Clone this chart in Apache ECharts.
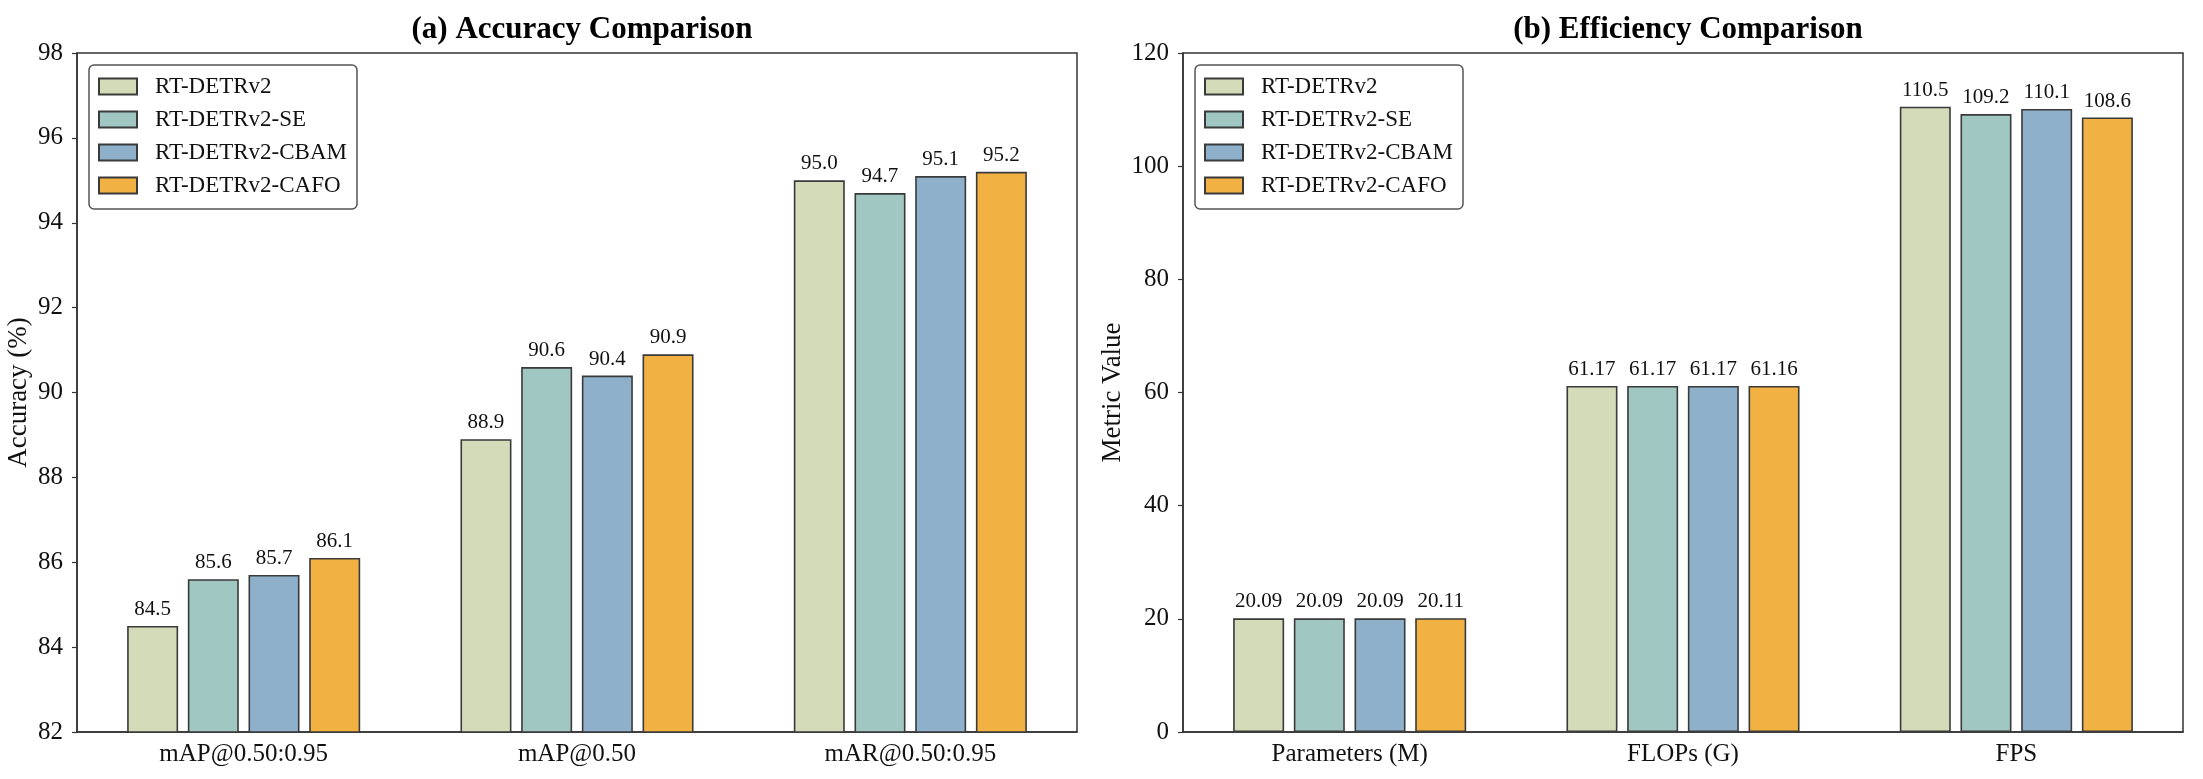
<!DOCTYPE html>
<html>
<head>
<meta charset="utf-8">
<script src="https://cdn.jsdelivr.net/npm/echarts@6/dist/echarts.min.js"></script>
<style>
  html, body { margin: 0; padding: 0; background: #fff; }
  #chart { width: 2203px; height: 779px; }
</style>
</head>
<body>
<div id="chart"></div>
<script>
const models = ["RT-DETRv2", "RT-DETRv2-SE", "RT-DETRv2-CBAM", "RT-DETRv2-CAFO"];
const colors = ["#D3DBB8", "#A0C7C2", "#8EB0CB", "#F2B243"];

// (a) accuracy
const accCategories = ["mAP@0.50:0.95", "mAP@0.50", "mAR@0.50:0.95"];
const accBase = [84.5, 88.9, 95.0];
const accSE = [85.6, 90.6, 94.7];
const accCBAM = [85.7, 90.4, 95.1];
const accCAFO = [86.1, 90.9, 95.2];

// (b) efficiency
const effCategories = ["Parameters (M)", "FLOPs (G)", "FPS"];
const effDecimals = [2, 2, 1];
const effBase = [20.09, 61.17, 110.5];
const effSE = [20.09, 61.17, 109.2];
const effCBAM = [20.09, 61.17, 110.1];
const effCAFO = [20.11, 61.16, 108.6];

const accData = [accBase, accSE, accCBAM, accCAFO];
const effData = [effBase, effSE, effCBAM, effCAFO];

const FONT = "'Liberation Serif', 'Times New Roman', serif";
const INK = "#333";

function makeSeries(data, gridIdx, fmt) {
  return data.map((vals, i) => ({
    name: models[i],
    type: "bar",
    xAxisIndex: gridIdx,
    yAxisIndex: gridIdx,
    data: vals,
    barWidth: 51,
    barGap: "19%",
    itemStyle: { color: colors[i], borderColor: "#3a3a3a", borderWidth: 1.6 },
    label: {
      show: true,
      position: "top",
      distance: 6,
      fontFamily: FONT,
      fontSize: 21,
      color: "#111",
      formatter: fmt,
    },
  }));
}

function legendAt(left) {
  return {
    data: models,
    orient: "vertical",
    left: left,
    top: 65,
    icon: "rect",
    itemWidth: 38,
    itemHeight: 16,
    itemGap: 10,
    padding: [10, 10, 12, 9],
    borderColor: "#555",
    borderWidth: 1.5,
    borderRadius: 5,
    backgroundColor: "#fff",
    textStyle: { fontFamily: FONT, fontSize: 23, color: "#111", lineHeight: 23, padding: [0, 0, 0, 13] },
  };
}

function xAxisFor(cats, gridIdx) {
  return {
    type: "category",
    gridIndex: gridIdx,
    data: cats,
    axisLine: { lineStyle: { color: INK, width: 1.5 } },
    axisTick: { alignWithLabel: true, length: 5, lineStyle: { color: INK, width: 1.2 } },
    axisLabel: { fontFamily: FONT, fontSize: 25, color: "#111", margin: 10 },
    splitLine: { show: false },
  };
}

function yAxisFor(name, min, max, interval, gridIdx, gap) {
  return {
    type: "value",
    gridIndex: gridIdx,
    min: min,
    max: max,
    interval: interval,
    name: name,
    nameLocation: "middle",
    nameGap: gap,
    nameTextStyle: { fontFamily: FONT, fontSize: 27, color: "#111" },
    axisLine: { show: true, lineStyle: { color: INK, width: 1.5 } },
    axisTick: { show: true, length: 5, lineStyle: { color: INK, width: 1.2 } },
    axisLabel: { fontFamily: FONT, fontSize: 25, color: "#111", margin: 14 },
    splitLine: { show: false },
  };
}

const chart = echarts.init(document.getElementById("chart"), null, { renderer: "canvas" });

const option = {
  backgroundColor: "#fff",
  animation: false,
  title: [
    {
      text: "(a) Accuracy Comparison",
      left: 577,
      top: 9,
      textAlign: "center",
      textStyle: { fontFamily: FONT, fontSize: 31, fontWeight: "bold", color: "#000" },
    },
    {
      text: "(b) Efficiency Comparison",
      left: 1683,
      top: 9,
      textAlign: "center",
      textStyle: { fontFamily: FONT, fontSize: 31, fontWeight: "bold", color: "#000" },
    },
  ],
  legend: [legendAt(89), legendAt(1195)],
  grid: [
    { left: 77, top: 53, width: 1000, height: 679, show: true, borderColor: INK, borderWidth: 1.5, backgroundColor: "transparent" },
    { left: 1183, top: 53, width: 1000, height: 679, show: true, borderColor: INK, borderWidth: 1.5, backgroundColor: "transparent" },
  ],
  xAxis: [xAxisFor(accCategories, 0), xAxisFor(effCategories, 1)],
  yAxis: [
    yAxisFor("Accuracy (%)", 82, 98, 2, 0, 45),
    yAxisFor("Metric Value", 0, 120, 20, 1, 57),
  ],
  series: [
    ...makeSeries(accData, 0, (p) => p.value.toFixed(1)),
    ...makeSeries(effData, 1, (p) => p.value.toFixed(effDecimals[p.dataIndex])),
  ],
};

chart.setOption(option);
</script>
</body>
</html>
